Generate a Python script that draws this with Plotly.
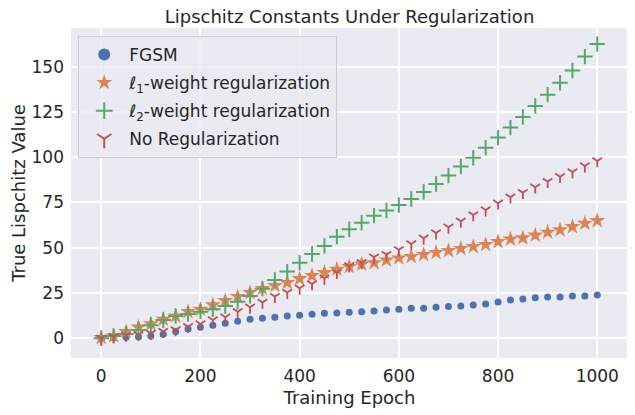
import plotly.graph_objects as go

# epochs: 0, 25, ..., 1000
epochs = list(range(0, 1001, 25))

fgsm = [0.0, 0.3, 0.5, 0.9, 1.3, 2.2, 3.7, 5.1, 6.1, 7.2, 8.3, 9.4, 10.5, 11.0,
        11.6, 12.3, 12.7, 13.2, 13.8, 14.0, 14.3, 14.7, 15.0, 15.6, 16.0, 16.5,
        16.5, 17.1, 17.5, 17.8, 18.4, 18.9, 20.0, 21.1, 21.7, 22.3, 22.8, 22.8,
        23.4, 23.4, 23.9]

l1_reg = [0.3, 1.3, 3.7, 6.1, 7.9, 10.5, 12.3, 14.7, 16.0, 18.4, 20.8, 23.0,
          25.2, 27.4, 29.1, 30.7, 32.9, 34.6, 36.2, 38.1, 39.5, 40.9, 41.7, 43.2,
          44.3, 45.1, 46.2, 47.3, 48.4, 49.5, 50.6, 51.7, 53.3, 54.7, 55.4, 56.9,
          58.5, 59.8, 61.6, 63.5, 64.9]

l2_reg = [0.0, 1.3, 2.4, 4.6, 7.2, 10.1, 12.3, 13.4, 14.7, 16.0, 17.8, 20.2,
          23.4, 27.4, 32.2, 36.8, 41.7, 46.5, 51.0, 56.1, 60.2, 63.8, 67.7, 70.5,
          73.6, 76.9, 80.8, 85.2, 89.8, 94.8, 99.7, 105.2, 110.8, 116.3, 122.2,
          128.3, 134.5, 141.1, 147.8, 155.5, 162.5]

no_reg = [0.0, 0.9, 1.6, 2.0, 2.6, 3.7, 4.6, 6.4, 7.9, 10.1, 11.6, 14.7, 17.1,
          19.8, 23.0, 25.2, 27.6, 30.0, 33.1, 36.2, 39.9, 41.7, 44.7, 46.2, 48.8,
          52.1, 55.2, 58.1, 61.3, 64.6, 68.1, 70.8, 74.5, 77.9, 80.4, 83.4, 86.5,
          89.2, 91.8, 95.1, 97.9]

FONT = "DejaVu Sans"
TEXT = "#262626"

fig = go.Figure()

fig.add_trace(go.Scatter(
    x=epochs, y=fgsm, mode="markers", name="FGSM", legendgroup="a",
    marker=dict(symbol="circle", size=7, color="#4C72B0"),
))
fig.add_trace(go.Scatter(
    x=epochs, y=l1_reg, mode="markers", legendgroup="b",
    name="<i>ℓ</i><sub>1</sub>-weight regularization",
    marker=dict(symbol="star", size=12, color="#DD8452"),
))
fig.add_trace(go.Scatter(
    x=epochs, y=l2_reg, mode="markers", legendgroup="c",
    name="<i>ℓ</i><sub>2</sub>-weight regularization",
    marker=dict(symbol="cross-thin", size=11, color="#55A868",
                line=dict(color="#55A868", width=2)),
))
fig.add_trace(go.Scatter(
    x=epochs, y=no_reg, mode="markers", name="No Regularization", legendgroup="d",
    marker=dict(symbol="y-down", size=8, color="#C44E52",
                line=dict(color="#C44E52", width=1.8)),
))

# the page puts the figure 8px in from the top-left corner, so the figure is
# a bit smaller than the window
fig.update_layout(
    width=627, height=407,
    margin=dict(l=63, r=7, t=20, b=57),
    paper_bgcolor="white",
    plot_bgcolor="#EAEAF2",
    font=dict(family=FONT, size=16, color=TEXT),
    title=dict(text="Lipschitz Constants Under Regularization",
               x=0.5, xanchor="center", xref="paper",
               y=0.978, yanchor="middle",
               font=dict(family=FONT, size=18, color=TEXT)),
    legend=dict(x=0.013, y=0.976, xanchor="left", yanchor="top",
                bgcolor="rgba(234,234,242,0.8)", bordercolor="#CCCCCC",
                borderwidth=1, font=dict(family=FONT, size=17, color=TEXT),
                itemsizing="constant", itemwidth=40, tracegroupgap=3),
    showlegend=True,
)

fig.update_xaxes(
    range=[-61, 1062], tickvals=[0, 200, 400, 600, 800, 1000],
    showgrid=True, gridcolor="white", gridwidth=1.5, zeroline=False,
    showline=False, ticks="", ticklabelstandoff=6, automargin=False,
    tickfont=dict(family=FONT, size=17, color=TEXT),
    title=dict(text="Training Epoch", font=dict(family=FONT, size=18, color=TEXT),
               standoff=6),
)
fig.update_yaxes(
    range=[-10.9, 171.3], tickvals=[0, 25, 50, 75, 100, 125, 150],
    showgrid=True, gridcolor="white", gridwidth=1.5, zeroline=False,
    showline=False, ticks="", ticklabelstandoff=6, automargin=False,
    tickfont=dict(family=FONT, size=17, color=TEXT),
    title=dict(text="True Lispchitz Value", font=dict(family=FONT, size=18, color=TEXT),
               standoff=3),
)

fig.write_html("out.html")
